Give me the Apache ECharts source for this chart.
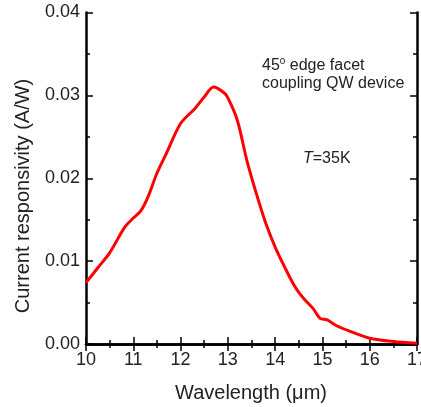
<!DOCTYPE html>
<html><head><meta charset="utf-8">
<script src="https://cdn.jsdelivr.net/npm/echarts@6/dist/echarts.min.js"></script>
<style>html,body{margin:0;padding:0;background:#fff}#c{width:421px;height:407px}</style>
</head><body><div id="c"></div>
<script>
const wavelength = [10.0,10.25,10.5,10.82,11.0,11.15,11.3,11.5,11.7,12.0,12.3,12.5,12.7,12.9,13.0,13.2,13.4,13.6,13.8,14.0,14.2,14.4,14.6,14.8,14.95,15.1,15.3,15.6,16.0,16.5,17.0];
const responsivity = [0.0074,0.0092,0.0110,0.0141,0.0152,0.0160,0.0176,0.0206,0.0230,0.0266,0.0284,0.0298,0.0310,0.0304,0.0297,0.0270,0.0222,0.0182,0.0146,0.0117,0.0093,0.0071,0.0055,0.0043,0.0031,0.0029,0.0022,0.0015,0.0007,0.0003,0.0001];
const xTicks = [10,11,12,13,14,15,16,17];
const yTicks = ['0.00','0.01','0.02','0.03','0.04'];

const chart = echarts.init(document.getElementById('c'));
const font = 'Liberation Sans, Arial, sans-serif';
const axisCommon = {
  axisLine:{lineStyle:{color:'#000',width:2.5}},
  axisTick:{inside:true,length:7,lineStyle:{color:'#000',width:1.5}},
  minorTick:{show:true,splitNumber:2,length:4,lineStyle:{color:'#000',width:1.5}},
  splitLine:{show:false}
};
chart.setOption({
  animation:false,
  grid:{left:86,right:4,top:12.5,bottom:63,containLabel:false,outerBoundsMode:'none'},
  xAxis:[
    Object.assign({type:'value',min:10,max:17,interval:1,position:'bottom',
      axisLabel:{fontFamily:font,fontSize:18,color:'#222',margin:7,hideOverlap:false,
        formatter:v=>xTicks.indexOf(v)>=0?String(v):''}},axisCommon),
    Object.assign({type:'value',min:10,max:17,interval:1,position:'top',axisLabel:{show:false}},axisCommon)
  ],
  yAxis:[
    Object.assign({type:'value',min:0,max:0.04,interval:0.01,position:'left',
      axisLabel:{fontFamily:font,fontSize:18,color:'#222',margin:6,
        formatter:v=>yTicks[Math.round(v/0.01)]}},axisCommon),
    Object.assign({type:'value',min:0,max:0.04,interval:0.01,position:'right',axisLabel:{show:false}},axisCommon)
  ],
  graphic:[
    {type:'text',x:251,y:393,style:{text:'Wavelength (\u03bcm)',font:'20px '+font,fill:'#222',align:'center',verticalAlign:'middle'}},
    {type:'text',x:23,y:196,rotation:Math.PI/2,style:{text:'Current responsivity (A/W)',font:'20px '+font,fill:'#222',align:'center',verticalAlign:'middle'}},
    {type:'text',left:262,top:56,style:{rich:{a:{fontFamily:font,fontSize:16,fill:'#222'},s:{fontFamily:font,fontSize:10,fill:'#222',verticalAlign:'top',padding:[0,0,9,0]}},text:'{a|45}{s|o}{a| edge facet}'}},
    {type:'text',left:262,top:76,style:{text:'coupling QW device',font:'16px '+font,fill:'#222'}},
    {type:'text',left:303,top:151,style:{rich:{i:{fontFamily:font,fontSize:16,fontStyle:'italic',fill:'#222'},a:{fontFamily:font,fontSize:16,fill:'#222'}},text:'{i|T}{a|=35K}'}}
  ],
  series:[{type:'line',data:wavelength.map((x,i)=>[x,responsivity[i]]),smooth:0.3,showSymbol:false,
    lineStyle:{color:'#ff0000',width:3},clip:false}]
});
</script></body></html>
